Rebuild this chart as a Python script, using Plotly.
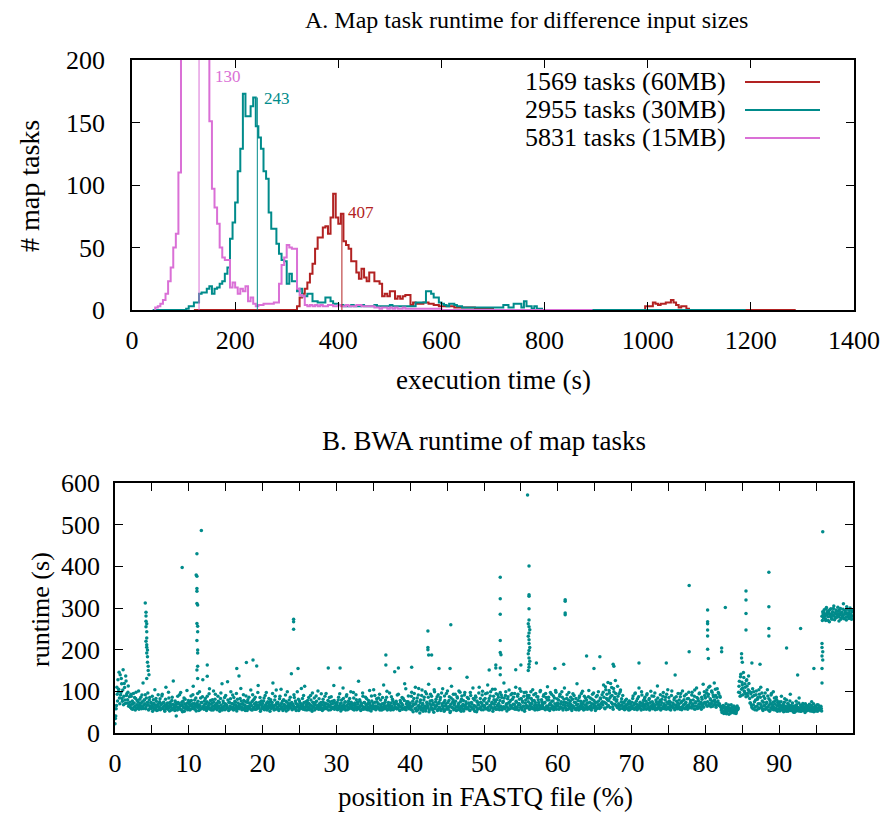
import plotly.graph_objects as go

OFF = 8                       # page body margin of the browser
W, H = 888 - 2 * OFF, 822 - 2 * OFF
FONT = "Liberation Serif"
RED = "#b22222"
TEAL = "#008b8b"
ORCHID = "#da70d6"
BIN = 5

# ---------------- Panel A data (histograms, 5 s bins) ----------------
legend_labels = ["1569 tasks (60MB)", "2955 tasks (30MB)", "5831 tasks (15MB)"]
medians = [407, 243, 130]
median_heights = [77, 170, 260]

red_line_start, red_line_end = 120, 1287
red_main_start = 320
red_main_counts = [3, 10, 13, 17, 22, 29, 37, 49, 58, 58, 66, 67, 61, 74, 93, 74, 69, 77, 55, 52,
                   49, 39, 39, 30, 25, 33, 26, 23, 30, 30, 23, 23, 21, 11, 13, 11, 15, 15, 9, 11,
                   9, 11, 12, 12, 4, 6, 5, 5, 5, 6, 6, 5, 5, 4, 4, 3, 3, 3, 3, 3,
                   3, 2, 2, 2, 2, 2, 2, 2, 2, 1, 1, 1, 1, 1, 1, 1]
red_bump_start = 995
red_bump_counts = [3, 3, 3, 6, 5, 4, 5, 5, 6, 6, 8, 6, 4, 2, 3, 3, 1]

teal_line_start, teal_line_end = 40, 1190
teal_start = 105
teal_counts = [1, 3, 3, 6, 6, 13, 14, 14, 17, 19, 13, 17, 18, 21, 23, 29, 34, 57, 70, 86,
               111, 129, 173, 155, 155, 163, 170, 147, 138, 129, 111, 105, 78, 65, 65, 53, 45, 40, 39, 21,
               29, 23, 23, 15, 17, 11, 11, 13, 13, 7, 7, 6, 6, 6, 10, 10, 7, 5, 5, 4,
               4, 3, 3, 3, 4, 3, 3, 3, 4, 3, 3, 3, 3, 4, 3, 3, 3, 3, 3, 4,
               3, 3, 3, 3, 3, 3, 3, 3, 3, 6, 6, 6, 6, 15, 15, 13, 10, 10, 6, 5,
               4, 3, 5, 5, 4, 3, 3, 2, 2, 2, 2, 2, 2, 2, 2, 2, 2, 2, 2, 2,
               2, 2, 2, 4, 4, 2, 2, 5, 5, 5, 2, 7, 3, 3, 1, 3, 1, 1]

orchid_line_start, orchid_line_end = 43, 893
orchid_start = 45
orchid_counts = [2, 3, 5, 8, 13, 23, 34, 50, 61, 110, 270, 350, 430, 480, 510, 500, 470, 420, 360, 290,
                 230, 151, 97, 82, 69, 50, 42, 40, 40, 18, 22, 18, 13, 17, 15, 19, 7, 10, 5, 3,
                 4, 4, 5, 5, 5, 5, 6, 6, 21, 36, 42, 52, 50, 49, 49, 17, 12, 11, 4, 3,
                 4, 3, 4, 3, 4, 3, 3, 4, 4, 3, 3, 4, 3, 3, 4, 3, 3, 3, 4, 4,
                 3, 3, 3, 3, 3, 2, 2, 1, 2, 2, 1, 2, 1, 2, 1, 1, 2, 1, 1, 1,
                 1, 1, 1, 1, 1, 1, 1, 1, 1, 1, 1]

# ---------------- Panel B data (BWA runtime per map task, file order) ----------------
# each 10 % of the file: two interleaved lists of task runtimes (s)
runtime_00_10 = [22, 41, 66, 93, 128, 105, 84, 140, 97, 118, 76, 152, 88, 109, 71, 125, 94, 80, 113, 68,
                 74, 61, 88, 69, 57, 95, 72, 64, 83, 59, 78, 66, 101, 62, 70, 86, 58, 75, 120, 67,
                 79, 92, 63, 131, 74, 68, 57, 85, 61, 73, 66, 52, 80, 69, 104, 60, 76, 64, 55, 71,
                 63, 82, 58, 70, 93, 61, 74, 56, 67, 110, 59, 72, 65, 84, 53, 69, 62, 78, 57, 125,
                 66, 54, 73, 41, 62, 88, 58, 70, 64, 97, 55, 68, 76, 60, 52, 81, 67, 59, 72, 63]
runtime_00_10b = [35, 58, 110, 77, 99, 146, 70, 91, 131, 83, 103, 68, 119, 79, 137, 90, 72, 98, 64, 87,
                  66, 93, 58, 77, 71, 62, 85, 55, 98, 68, 60, 74, 57, 81, 65, 72, 91, 63, 59, 79,
                  70, 58, 84, 67, 96, 55, 79, 64, 72, 59, 88, 62, 71, 57, 66, 83, 54, 68, 92, 61,
                  75, 56, 67, 89, 59, 72, 64, 52, 81, 63, 70, 57, 98, 61, 74, 66, 55, 86, 69, 60,
                  58, 77, 63, 69, 55, 73, 61, 92, 57, 66, 74, 51, 63, 84, 70, 59, 65, 102, 56, 78]
runtime_10_20 = [61, 74, 57, 89, 66, 70, 112, 58, 79, 64, 53, 71, 95, 62, 68, 56, 84, 73, 60, 128,
                 65, 77, 59, 70, 54, 88, 63, 72, 106, 57, 69, 61, 80, 55, 74, 66, 93, 58, 71, 63,
                 76, 60, 52, 83, 67, 118, 59, 72, 64, 56, 90, 68, 61, 79, 54, 73, 65, 99, 58, 70,
                 62, 85, 57, 74, 66, 53, 81, 60, 137, 69, 63, 77, 56, 71, 92, 59, 67, 75, 61, 54,
                 80, 64, 72, 58, 103, 66, 55, 78, 62, 70, 86, 57, 68, 63, 114, 60, 74, 52, 69, 65]
runtime_10_20b = [70, 55, 66, 78, 59, 92, 63, 71, 57, 84, 68, 62, 76, 54, 99, 65, 58, 73, 87, 61,
                  57, 69, 83, 62, 75, 58, 66, 94, 60, 78, 55, 72, 64, 101, 58, 81, 62, 69, 56, 88,
                  65, 73, 59, 96, 61, 55, 77, 63, 85, 70, 58, 66, 123, 60, 74, 57, 82, 62, 71, 91,
                  55, 68, 76, 61, 95, 59, 72, 64, 58, 83, 107, 62, 69, 57, 78, 66, 54, 89, 63, 73,
                  59, 86, 61, 70, 56, 75, 92, 60, 81, 57, 65, 73, 58, 97, 62, 68, 85, 56, 77, 61]
runtime_20_30 = [71, 58, 84, 63, 67, 97, 55, 75, 61, 69, 52, 80, 64, 73, 120, 59, 66, 88, 57, 72,
                 62, 70, 54, 82, 65, 105, 60, 76, 57, 68, 63, 91, 53, 74, 66, 59, 79, 61, 71, 142,
                 56, 69, 64, 85, 58, 72, 62, 99, 67, 54, 77, 60, 70, 65, 83, 57, 73, 112, 61, 68,
                 55, 78, 63, 71, 59, 90, 66, 52, 74, 62, 84, 68, 58, 76, 64, 101, 57, 70, 61, 73,
                 67, 54, 81, 60, 72, 63, 95, 58, 69, 156, 65, 75, 56, 87, 62, 71, 59, 78, 64, 66]
runtime_20_30b = [63, 77, 56, 90, 60, 72, 64, 58, 83, 66, 75, 59, 68, 95, 61, 55, 79, 67, 103, 60,
                  74, 57, 66, 88, 59, 71, 63, 54, 80, 68, 58, 76, 62, 99, 56, 70, 64, 86, 60, 73,
                  66, 58, 92, 61, 77, 54, 69, 63, 81, 57, 72, 65, 107, 59, 68, 90, 62, 56, 75, 64,
                  71, 60, 85, 56, 67, 79, 58, 96, 63, 70, 55, 73, 89, 61, 66, 58, 82, 64, 57, 94,
                  60, 74, 57, 66, 88, 59, 70, 62, 78, 55, 85, 63, 69, 58, 76, 61, 114, 57, 72, 64]
runtime_30_40 = [60, 73, 57, 86, 65, 70, 53, 79, 62, 108, 68, 58, 75, 64, 92, 56, 71, 61, 83, 67,
                 74, 59, 66, 97, 55, 72, 63, 80, 58, 69, 124, 61, 76, 54, 70, 65, 88, 57, 73, 62,
                 68, 82, 56, 71, 60, 102, 66, 53, 77, 63, 72, 58, 90, 65, 59, 75, 61, 84, 69, 55,
                 79, 62, 70, 57, 115, 66, 74, 60, 86, 55, 68, 63, 96, 58, 72, 64, 81, 56, 71, 147,
                 61, 76, 58, 69, 93, 64, 54, 73, 62, 85, 67, 59, 78, 57, 106, 70, 63, 75, 60, 68]
runtime_30_40b = [68, 56, 79, 62, 94, 58, 72, 65, 57, 83, 61, 74, 55, 88, 66, 60, 77, 58, 69, 99,
                  63, 71, 57, 84, 60, 67, 92, 56, 74, 62, 58, 80, 65, 70, 57, 96, 61, 73, 59, 86,
                  57, 69, 63, 78, 55, 72, 61, 89, 58, 66, 104, 60, 74, 56, 82, 63, 70, 58, 93, 61,
                  67, 55, 85, 62, 71, 58, 79, 64, 100, 57, 73, 60, 66, 55, 87, 61, 77, 58, 69, 63,
                  74, 58, 91, 60, 67, 55, 78, 63, 71, 57, 83, 60, 118, 62, 56, 75, 64, 89, 58, 70]
runtime_40_50 = [72, 57, 98, 64, 51, 83, 69, 110, 60, 76, 55, 91, 66, 48, 79, 62, 103, 71, 58, 86,
                 65, 53, 94, 70, 61, 117, 56, 77, 67, 88, 59, 72, 50, 99, 63, 81, 68, 54, 92, 74,
                 60, 85, 57, 70, 106, 64, 52, 78, 66, 95, 58, 73, 62, 87, 49, 69, 112, 61, 80, 56,
                 71, 93, 63, 55, 84, 67, 101, 59, 75, 52, 89, 65, 78, 57, 97, 62, 70, 134, 58, 82,
                 66, 54, 90, 73, 60, 108, 57, 79, 64, 86, 51, 74, 68, 96, 59, 83, 63, 71, 100, 56]
runtime_40_50b = [63, 88, 55, 76, 69, 95, 58, 71, 53, 84, 65, 107, 60, 73, 56, 90, 67, 52, 79, 62,
                  99, 58, 74, 64, 86, 51, 70, 93, 61, 78, 55, 68, 104, 59, 75, 65, 87, 57, 71, 62,
                  80, 54, 96, 66, 59, 73, 89, 56, 70, 63, 101, 57, 78, 65, 52, 84, 61, 74, 93, 67,
                  58, 76, 54, 87, 62, 71, 56, 98, 64, 81, 59, 69, 53, 91, 66, 75, 58, 85, 61, 72,
                  55, 97, 63, 70, 58, 83, 66, 52, 89, 62, 77, 57, 68, 110, 60, 74, 56, 91, 65, 79]
runtime_50_60 = [77, 62, 94, 58, 70, 115, 55, 83, 66, 99, 60, 74, 52, 88, 69, 105, 57, 80, 64, 92,
                 71, 56, 97, 63, 85, 59, 76, 120, 61, 90, 67, 53, 82, 72, 103, 58, 78, 65, 95, 60,
                 86, 69, 57, 110, 74, 62, 93, 55, 81, 68, 100, 59, 77, 64, 88, 52, 72, 98, 61, 84,
                 75, 90, 66, 58, 83, 71, 104, 60, 78, 55, 95, 67, 62, 87, 73, 57, 99, 64, 80, 69,
                 59, 92, 72, 56, 85, 65, 111, 61, 79, 54, 97, 68, 76, 58, 89, 63, 70, 102, 57, 82]
runtime_50_60b = [66, 83, 58, 72, 96, 61, 77, 55, 89, 64, 71, 105, 59, 80, 62, 75, 94, 57, 68, 86,
                  60, 78, 65, 91, 56, 73, 63, 84, 58, 99, 70, 62, 87, 57, 74, 66, 92, 60, 81, 69,
                  59, 95, 63, 76, 57, 88, 67, 71, 106, 61, 83, 56, 74, 64, 97, 58, 79, 66, 90, 62,
                  84, 57, 71, 99, 63, 78, 58, 92, 66, 73, 60, 87, 56, 80, 68, 63, 102, 59, 75, 64,
                  88, 60, 73, 95, 62, 79, 57, 86, 68, 71, 59, 93, 64, 77, 56, 84, 61, 98, 66, 72]
runtime_60_70 = [64, 79, 58, 93, 70, 61, 86, 55, 74, 108, 66, 59, 83, 72, 57, 97, 63, 77, 68, 54,
                 81, 65, 90, 60, 73, 56, 118, 69, 62, 85, 58, 76, 95, 64, 71, 55, 88, 67, 60, 79,
                 57, 72, 102, 63, 84, 59, 70, 93, 61, 78, 66, 54, 87, 74, 60, 99, 68, 63, 82, 71,
                 92, 67, 115, 74, 58, 104, 83, 63, 121, 78, 96, 61, 88, 109, 70, 57, 99, 85, 126, 66,
                 80, 112, 64, 94, 59, 103, 75, 68, 90, 61, 72, 57, 66, 81, 60, 69, 55, 77, 63, 58]
runtime_60_70b = [70, 57, 88, 63, 75, 99, 59, 68, 81, 62, 73, 56, 92, 66, 79, 60, 71, 86, 58, 65,
                  94, 61, 74, 57, 83, 67, 60, 78, 55, 89, 64, 70, 59, 100, 62, 76, 57, 84, 66, 72,
                  61, 87, 58, 74, 65, 55, 81, 69, 96, 60, 73, 63, 58, 90, 67, 77, 59, 84, 62, 70,
                  75, 98, 86, 60, 111, 71, 93, 79, 66, 102, 84, 119, 73, 90, 63, 107, 81, 69, 95, 76,
                  61, 88, 70, 57, 99, 66, 82, 59, 74, 63, 56, 78, 61, 68, 58, 73, 62, 56, 70, 60]
runtime_70_80 = [74, 61, 89, 67, 57, 96, 70, 63, 82, 59, 108, 66, 72, 55, 91, 64, 78, 60, 86, 69,
                 57, 94, 71, 62, 83, 58, 100, 66, 75, 60, 88, 64, 56, 79, 69, 113, 61, 73, 58, 92,
                 67, 81, 59, 97, 70, 63, 86, 57, 74, 104, 62, 77, 68, 55, 90, 65, 72, 60, 84, 139,
                 63, 76, 58, 95, 69, 61, 87, 73, 56, 101, 66, 80, 59, 71, 93, 64, 57, 83, 68, 62,
                 78, 60, 98, 70, 65, 88, 57, 75, 108, 63, 82, 69, 96, 61, 74, 86, 66, 117, 72, 90]
runtime_70_80b = [65, 83, 58, 72, 94, 61, 77, 56, 68, 87, 62, 74, 58, 99, 66, 71, 57, 82, 64, 76,
                  91, 59, 67, 80, 55, 73, 63, 89, 58, 70, 65, 96, 60, 75, 57, 84, 68, 62, 78, 55,
                  73, 60, 88, 64, 58, 79, 66, 93, 59, 71, 85, 57, 74, 63, 101, 61, 69, 80, 56, 67,
                  87, 59, 72, 64, 79, 57, 95, 62, 76, 60, 68, 89, 58, 74, 63, 82, 66, 98, 61, 73,
                  62, 91, 67, 79, 58, 103, 72, 64, 85, 59, 77, 94, 63, 70, 57, 81, 68, 62, 99, 74]
runtime_80_90 = [84, 68, 103, 75, 93, 66, 112, 79, 71, 98, 64, 87, 120, 73, 90, 67, 106, 77, 95, 70,
                 86, 62, 58, 52, 66, 47, 61, 55, 70, 49, 57, 63, 45, 59, 53, 68, 50, 56, 62, 48,
                 54, 60, 51, 65, 57, 98, 124, 88, 141, 105, 116, 92, 133, 99, 110, 87, 128, 95, 104, 119,
                 83, 72, 97, 61, 106, 68, 90, 56, 79, 101, 64, 85, 58, 93, 70, 110, 62, 77, 54, 88,
                 66, 96, 59, 74, 104, 63, 82, 52, 71, 91, 57, 68, 99, 61, 76, 55, 86, 65, 73, 58]
runtime_80_90b = [72, 96, 64, 88, 110, 70, 82, 63, 101, 76, 91, 68, 79, 105, 62, 85, 74, 97, 66, 89,
                  65, 55, 49, 60, 53, 64, 51, 58, 46, 62, 54, 67, 52, 57, 48, 61, 55, 50, 65, 53,
                  58, 47, 63, 56, 60, 112, 97, 135, 90, 122, 108, 145, 101, 118, 94, 126, 113, 89, 137, 100,
                  72, 94, 66, 87, 58, 99, 75, 63, 92, 55, 81, 70, 104, 60, 86, 67, 96, 57, 74, 65,
                  83, 57, 71, 62, 89, 55, 67, 78, 60, 95, 63, 74, 56, 84, 69, 59, 80, 52, 66, 75]
runtime_90_100 = [70, 53, 62, 88, 57, 66, 51, 74, 60, 55, 79, 63, 52, 68, 58, 93, 61, 54, 72, 57,
                  65, 50, 59, 76, 56, 62, 53, 84, 60, 67, 52, 57, 71, 55, 63, 49, 58, 66, 54, 61,
                  56, 69, 53, 60, 75, 55, 62, 51, 58, 65, 54, 60, 52, 67, 57, 63, 55, 59, 280, 291,
                  276, 296, 285, 270, 301, 288, 279, 293, 267, 284, 298, 275, 290, 282, 305, 272, 287, 295, 278, 286,
                  292, 269, 283, 299, 276, 289, 281, 310, 274, 294, 286, 271, 297, 280, 288, 277, 300, 284, 273, 291]
runtime_90_100b = [58, 66, 75, 55, 61, 69, 57, 82, 64, 52, 60, 71, 56, 63, 77, 54, 66, 59, 62, 50,
                   57, 64, 53, 68, 61, 55, 72, 58, 52, 63, 59, 66, 54, 61, 57, 70, 53, 60, 64, 56,
                   62, 55, 58, 66, 52, 59, 70, 56, 63, 53, 60, 68, 57, 55, 62, 58, 64, 53, 270, 286,
                   289, 281, 274, 298, 283, 292, 270, 287, 296, 279, 285, 273, 291, 299, 280, 288, 276, 293, 284, 302,
                   279, 295, 287, 273, 290, 282, 297, 276, 285, 291, 278, 303, 288, 282, 275, 294, 286, 279, 296, 281]

# slow tasks standing out above the band (position %, runtime s)
outlier_pos = [4.1, 4.2, 4.2, 4.2, 4.3, 4.2, 4.3, 4.3, 4.2, 4.3, 4.3, 4.4, 4.3, 4.4, 4.4, 4.5, 4.5, 4.6,
               9.1,
               11.1, 11.0, 11.1, 11.1, 11.1, 11.1, 11.2, 11.1, 11.2, 11.2, 11.1, 11.2, 11.2, 11.2, 11.1, 11.2,
               11.7, 12.5, 12.5, 16.5, 17.8, 18.7, 19.2, 24.2, 24.2, 24.2, 24.8, 30.5,
               36.7, 36.7, 38.4, 40.2, 42.4, 42.4, 42.4, 42.5, 42.9, 43.9, 45.5, 45.4, 50.7, 51.6, 51.6,
               52.2, 52.2, 52.2, 52.2, 52.2, 52.3, 52.2, 52.2, 54.3, 55.0, 55.9,
               56.1, 56.1, 56.1, 56.1, 56.1, 56.0, 56.1, 56.2, 56.1, 56.0, 56.1, 56.1, 56.2, 56.1, 56.0, 56.1,
               56.2, 56.1, 56.1, 56.0, 57.1, 59.6, 61.0, 61.0, 61.0, 61.0, 60.8, 63.9, 64.9,
               65.7, 67.5, 67.6, 71.0, 74.7, 77.8, 77.8,
               80.3, 80.3, 80.3, 80.3, 80.3, 80.3, 80.4, 82.2, 82.2, 82.7, 84.9, 84.9, 85.0,
               85.5, 85.5, 85.5, 85.5, 86.3, 87.4, 88.6, 88.6, 88.6, 88.6, 91.0, 92.5, 92.9, 94.7,
               95.9, 95.8, 95.8, 95.9, 95.8, 95.9, 95.8, 95.8]
outlier_runtime = [312, 290, 281, 268, 262, 255, 243, 228, 220, 212, 206, 199, 192, 183, 170, 160, 150, 140,
                   397,
                   430, 379, 376, 347, 340, 311, 307, 263, 256, 243, 222, 199, 192, 160, 151, 131,
                   486, 163, 136, 155, 169, 175, 161, 273, 267, 249, 155, 156,
                   187, 163, 156, 158, 245, 205, 200, 187, 187, 155, 260, 155, 151, 163, 156,
                   374, 322, 285, 222, 193, 188, 156, 140, 152, 163, 571,
                   401, 332, 328, 298, 271, 262, 255, 248, 240, 232, 224, 215, 205, 198, 190, 180,
                   172, 165, 158, 150, 168, 155, 320, 316, 288, 284, 165, 185, 155,
                   183, 165, 160, 168, 168, 354, 195,
                   295, 267, 262, 247, 233, 201, 179, 204, 195, 301, 190, 180, 170,
                   341, 319, 287, 247, 168, 165, 386, 303, 251, 233, 204, 139, 251, 155,
                   483, 215, 205, 195, 185, 175, 155, 120]


def px(x):
    return (x - OFF) / W


def py(y):
    return 1 - (y - OFF) / H


def step_trace(line_start, line_end, segments):
    grid = {}
    for start, counts in segments:
        for i, c in enumerate(counts):
            grid[start + BIN * i] = c
    xs, ys = [line_start], [0]
    e = line_start - line_start % BIN + (BIN if line_start % BIN else 0)
    while e < line_end:
        xs.append(e)
        ys.append(grid.get(e, 0))
        e += BIN
    xs.append(line_end)
    ys.append(0)
    return xs, ys


fig = go.Figure()

series = [
    (RED, step_trace(red_line_start, red_line_end,
                     [(red_main_start, red_main_counts), (red_bump_start, red_bump_counts)])),
    (TEAL, step_trace(teal_line_start, teal_line_end, [(teal_start, teal_counts)])),
    (ORCHID, step_trace(orchid_line_start, orchid_line_end, [(orchid_start, orchid_counts)])),
]
for (color, (xs, ys)), name in zip(series, legend_labels):
    fig.add_trace(go.Scatter(x=xs, y=ys, mode="lines", line=dict(color=color, width=2, shape="hv"),
                             name=name, showlegend=False, xaxis="x", yaxis="y"))

for (color, _), m, h in zip(series, medians, median_heights):
    fig.add_trace(go.Scatter(x=[m, m], y=[0, h], mode="lines", line=dict(color=color, width=1),
                             showlegend=False, xaxis="x", yaxis="y", hoverinfo="skip"))

pairs = [(runtime_00_10, runtime_00_10b), (runtime_10_20, runtime_10_20b), (runtime_20_30, runtime_20_30b),
         (runtime_30_40, runtime_30_40b), (runtime_40_50, runtime_40_50b), (runtime_50_60, runtime_50_60b),
         (runtime_60_70, runtime_60_70b), (runtime_70_80, runtime_70_80b), (runtime_80_90, runtime_80_90b),
         (runtime_90_100, runtime_90_100b)]
band = []
for a, b in pairs:
    for u, v in zip(a, b):
        band += [u, v]
n = len(band)
band_pos = [100.0 * i / n for i in range(n)]
fig.add_trace(go.Scatter(x=band_pos + outlier_pos, y=band + outlier_runtime, mode="markers",
                         marker=dict(color=TEAL, size=3.5, line=dict(width=0)),
                         showlegend=False, xaxis="x2", yaxis="y2"))

axis_common = dict(showline=True, linecolor="black", linewidth=1.5, mirror="ticks", ticks="inside",
                   ticklen=8, tickwidth=1.2, tickcolor="black", showgrid=False, zeroline=False,
                   automargin=False,
                   tickfont=dict(family=FONT, size=26, color="black"), fixedrange=True)

fig.update_layout(
    width=W, height=H, margin=dict(l=0, r=0, t=0, b=0, pad=0, autoexpand=False),
    paper_bgcolor="white", plot_bgcolor="white",
    font=dict(family=FONT, color="black"),
    xaxis=dict(domain=[px(132), px(854)], range=[0, 1400], tickvals=list(range(0, 1401, 200)),
               anchor="y", ticklabelstandoff=6, **axis_common),
    yaxis=dict(domain=[py(310), py(60)], range=[0, 200], tickvals=[0, 50, 100, 150, 200],
               anchor="x", ticklabelstandoff=20, **axis_common),
    xaxis2=dict(domain=[px(115), px(853)], range=[0, 100], tickvals=list(range(0, 91, 10)),
                minor=dict(dtick=5, ticks="inside", ticklen=8, tickcolor="black", tickwidth=1.2),
                anchor="y2", ticklabelstandoff=6, **axis_common),
    yaxis2=dict(domain=[py(733), py(483)], range=[0, 600], tickvals=list(range(0, 601, 100)),
                anchor="x2", ticklabelstandoff=8, **axis_common),
)

ann = []
def text(x, y, s, size=27, angle=0, xanchor="center", color="black"):
    ann.append(dict(x=px(x), y=py(y), xref="paper", yref="paper", text=s, showarrow=False,
                    textangle=angle, xanchor=xanchor, yanchor="middle",
                    font=dict(family=FONT, size=size, color=color)))

text(526, 20, "A. Map task runtime for difference input sizes", size=24)
text(30, 186, "# map tasks", size=28, angle=-90)
text(493, 380, "execution time (s)")
text(484, 441, "B. BWA runtime of map tasks")
text(40, 610, "runtime (s)", size=26, angle=-90)
text(485, 797, "position in FASTQ file (%)")

legend_rows = [82, 110, 138]
shapes = []
for (color, _), label, yrow in zip(series, legend_labels, legend_rows):
    text(728, yrow, label, size=26, xanchor="right")
    shapes.append(dict(type="line", xref="paper", yref="paper", x0=px(745), x1=px(820),
                       y0=py(yrow), y1=py(yrow), line=dict(color=color, width=2)))

# median value labels
label_offsets = [(4, 78), (5, 169), (14, 187)]
for (color, _), m, (dx, ly) in zip(series, medians, label_offsets):
    ann.append(dict(x=m, y=ly, xref="x", yref="y", text=str(m), showarrow=False, xanchor="left",
                    yanchor="middle", xshift=dx, font=dict(family=FONT, size=17, color=color)))

fig.update_layout(annotations=ann, shapes=shapes)
fig.write_html("out.html")
